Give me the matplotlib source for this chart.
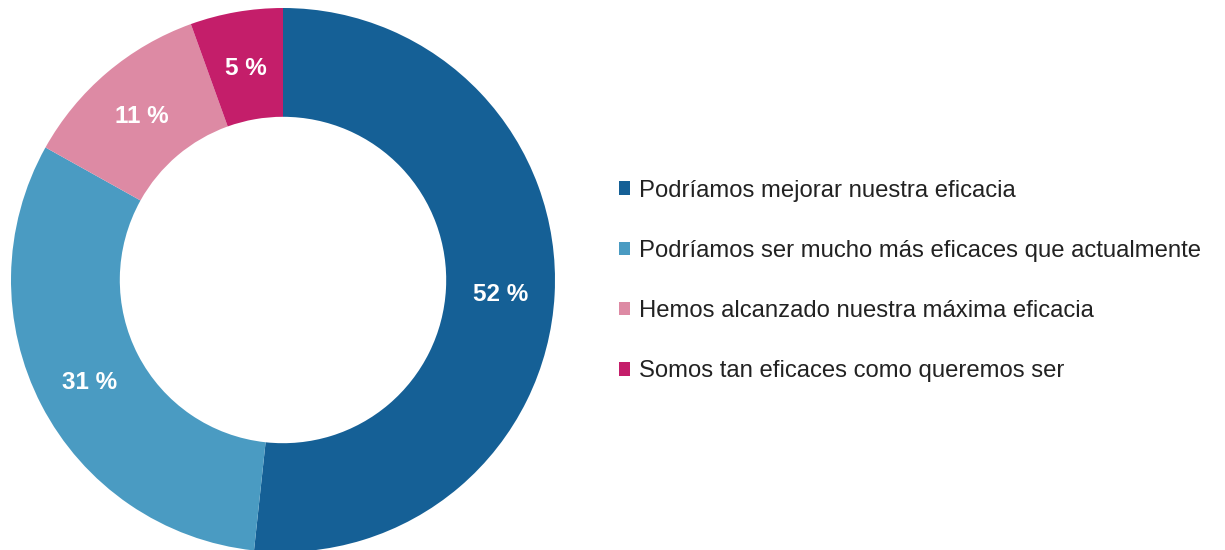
import matplotlib.pyplot as plt

plt.rcParams['font.family'] = ['Liberation Sans', 'DejaVu Sans']

categorias = ["Podríamos mejorar nuestra eficacia",
              "Podríamos ser mucho más eficaces que actualmente",
              "Hemos alcanzado nuestra máxima eficacia",
              "Somos tan eficaces como queremos ser"]
valores = [51.7, 31.4, 11.4, 5.5]
etiquetas = ["52 %", "31 %", "11 %", "5 %"]
colores = ["#156096", "#4a9bc2", "#dd8aa4", "#c41e6a"]

fig = plt.figure(figsize=(12.25, 5.5), dpi=100)
ax = fig.add_axes([11 / 1225, -2 / 550, 544 / 1225, 544 / 550])

wedges, textos = ax.pie(valores, colors=colores, startangle=90, counterclock=False,
                        radius=1, labels=etiquetas, labeldistance=0.8,
                        wedgeprops=dict(width=0.4, edgecolor='none'))
for t in textos:
    t.set_color('white')
    t.set_fontsize(17.5)
    t.set_fontweight('bold')
    t.set_ha('center')
    t.set_va('center_baseline')
ax.set_xlim(-1, 1)
ax.set_ylim(-1, 1)
ax.set_aspect('equal')

fig.legend(wedges, categorias, loc='center left', bbox_to_anchor=(597 / 1225, 0.489),
           frameon=False, fontsize=17.2, labelcolor='#222222',
           handlelength=0.5, handleheight=0.5, handletextpad=0.35, labelspacing=1.6)

fig.savefig('out.png', dpi=100)
